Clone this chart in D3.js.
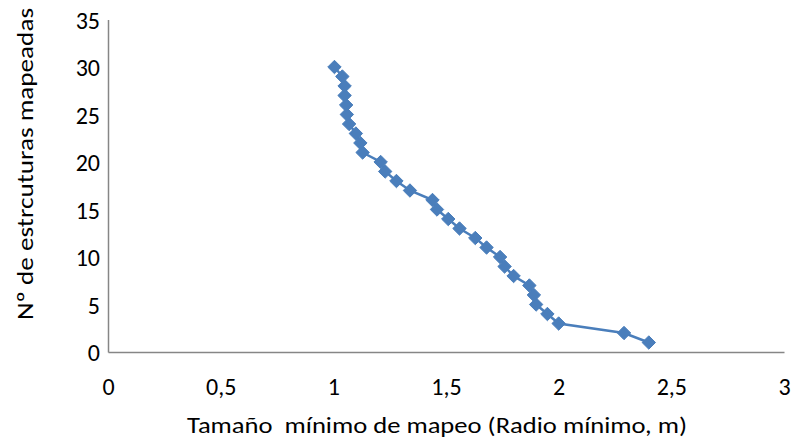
<!DOCTYPE html>
<html><head><meta charset="utf-8">
<script src="https://cdn.jsdelivr.net/npm/d3@7"></script>
<style>html,body{margin:0;padding:0;background:#fff}svg{display:block}</style>
</head><body>
<svg id="chart" width="794" height="442"></svg>
<script>
const radioMinimo = [2.40, 2.29, 2.00, 1.95, 1.90, 1.89, 1.87, 1.80, 1.76, 1.74, 1.68, 1.63, 1.56, 1.51, 1.46, 1.44, 1.34, 1.28, 1.23, 1.21, 1.13, 1.12, 1.10, 1.07, 1.06, 1.057, 1.05, 1.05, 1.04, 1.005];
const numEstructuras = [1, 2, 3, 4, 5, 6, 7, 8, 9, 10, 11, 12, 13, 14, 15, 16, 17, 18, 19, 20, 21, 22, 23, 24, 25, 26, 27, 28, 29, 30];
const xTicks = [0, 0.5, 1, 1.5, 2, 2.5, 3];
const yTicks = [0, 5, 10, 15, 20, 25, 30, 35];
const xTitle = "Tamaño  mínimo de mapeo (Radio mínimo, m)";
const yTitle = "Nº de estrcuturas mapeadas";

const data = numEstructuras.map((n, i) => ({x: radioMinimo[i], y: n}));
const svg = d3.select("#chart");
const font = "Calibri, Carlito, Lato, sans-serif";
const x = d3.scaleLinear().domain([0, 3]).range([108, 784]);
const y = d3.scaleLinear().domain([0, 35]).range([352, 19.5]);

const fmt = d => String(d).replace(".", ",");
const xAxis = svg.append("g").attr("transform", `translate(0,${y(0)})`)
  .call(d3.axisBottom(x).tickValues(xTicks).tickFormat(fmt).tickSize(0));
xAxis.selectAll("text").attr("y", 34).attr("dy", "0.36em");
const yAxis = svg.append("g").attr("transform", `translate(${x(0)},0)`)
  .call(d3.axisLeft(y).tickValues(yTicks).tickFormat(fmt).tickSize(0));
yAxis.selectAll("text").attr("x", -8).attr("dy", "0.36em");
[xAxis, yAxis].forEach(g => {
  g.select(".domain").attr("stroke", "#868686").attr("stroke-width", 1.5);
  g.selectAll("text").attr("font-family", font).attr("font-size", 24).attr("fill", "#000");
});

const line = d3.line().x(d => x(d.x)).y(d => y(d.y));
svg.append("path").datum(data).attr("d", line)
  .attr("fill", "none").attr("stroke", "#4a7ebb").attr("stroke-width", 2.5);
svg.append("g").selectAll("path").data(data).join("path")
  .attr("transform", d => `translate(${x(d.x)},${y(d.y)})`)
  .attr("d", d3.symbol().type(d3.symbolDiamond2).size(115))
  .attr("fill", "#4a7ebb").attr("stroke", "#4a7ebb").attr("stroke-width", 1);

svg.append("text").attr("x", 437).attr("y", 433).attr("text-anchor", "middle")
  .attr("font-family", font).attr("font-size", 23).attr("fill", "#000")
  .attr("textLength", 500).attr("lengthAdjust", "spacingAndGlyphs")
  .attr("xml:space", "preserve").style("white-space", "pre").text(xTitle);
svg.append("text").attr("transform", "translate(33,164) rotate(-90)").attr("text-anchor", "middle")
  .attr("font-family", font).attr("font-size", 23).attr("fill", "#000")
  .attr("textLength", 312).attr("lengthAdjust", "spacingAndGlyphs").text(yTitle);
</script>
</body></html>
